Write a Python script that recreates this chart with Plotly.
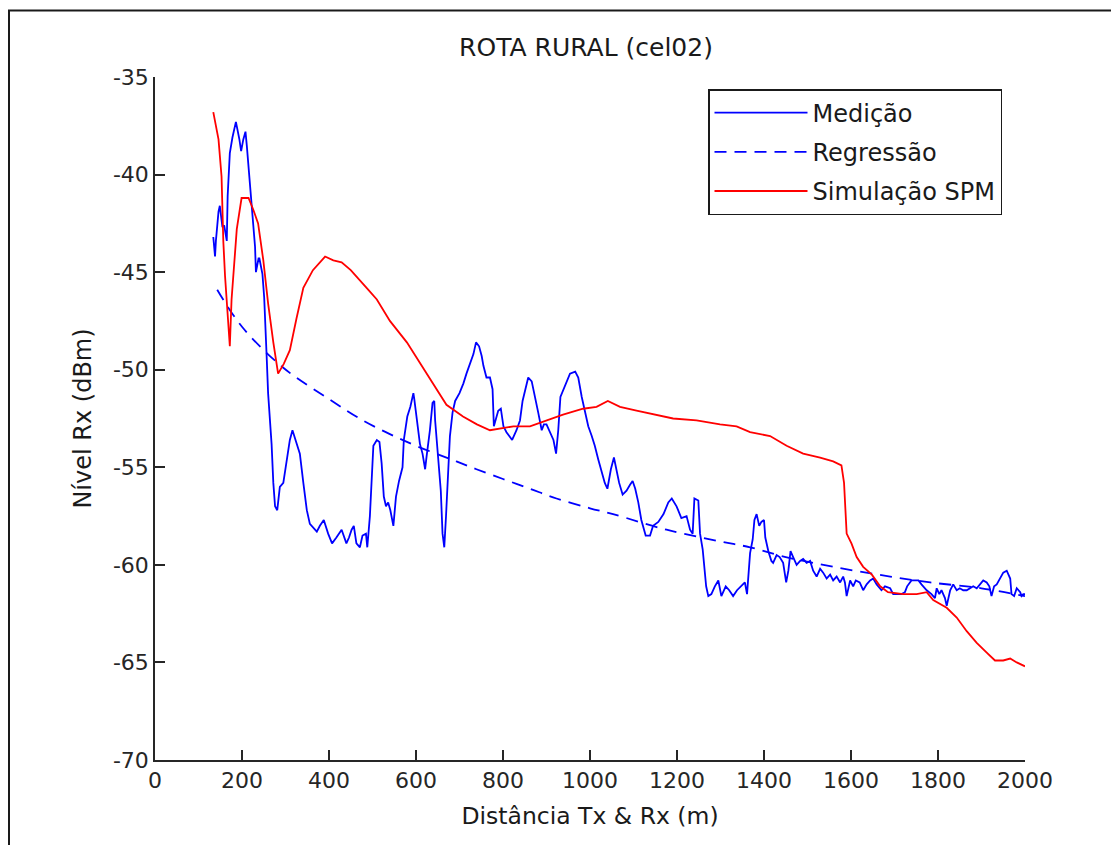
import plotly.graph_objects as go

# ---------------- data ----------------
med_x = [134, 138, 140, 146, 149, 155, 159, 165, 167, 172, 178, 184, 186, 194, 198, 203, 208, 211, 216, 220,
         224, 230, 232, 238, 240, 247, 251, 255, 257, 260, 264, 268, 272, 276, 281, 287, 295, 302, 310, 316,
         323, 333, 341, 349, 356, 364, 372, 379, 388, 398, 407, 417, 429, 440, 446, 452, 457, 463, 471, 477,
         485, 488, 494, 502, 510, 516, 521, 526, 531, 536, 541, 548, 554, 561, 569, 572, 580, 587, 594, 596,
         602, 609, 615, 621, 624, 632, 638, 642, 644, 651, 657, 661, 665, 669, 674, 678, 684, 690, 700, 709,
         716, 724, 732, 738, 745, 751, 755, 762, 770, 776, 779, 784, 789, 795, 801, 808, 821, 831, 839, 845,
         851, 858, 866, 874, 881, 889, 894, 900, 908, 916, 922, 927, 932, 939, 946, 954, 966, 973, 981, 989,
         996, 1004, 1011, 1019, 1027, 1034, 1040, 1048, 1055, 1061, 1067, 1075, 1084, 1092, 1098, 1104, 1111,
         1118, 1128, 1138, 1145, 1157, 1169, 1180, 1188, 1199, 1210, 1222, 1230, 1236, 1240, 1249, 1253, 1259,
         1264, 1267, 1272, 1279, 1287, 1295, 1302, 1312, 1320, 1329, 1338, 1348, 1356, 1361, 1364, 1368, 1374,
         1378, 1383, 1389, 1394, 1400, 1403, 1410, 1417, 1421, 1429, 1436, 1444, 1451, 1456, 1461, 1467, 1475,
         1483, 1490, 1498, 1506, 1513, 1521, 1529, 1536, 1544, 1552, 1559, 1567, 1575, 1582, 1586, 1590, 1598,
         1605, 1611, 1620, 1628, 1636, 1644, 1651, 1659, 1670, 1678, 1690, 1697, 1705, 1716, 1724, 1729, 1739,
         1747, 1755, 1762, 1774, 1785, 1793, 1797, 1803, 1808, 1816, 1820, 1828, 1835, 1843, 1850, 1858, 1866,
         1874, 1881, 1889, 1897, 1904, 1912, 1918, 1923, 1929, 1935, 1943, 1950, 1958, 1966, 1969, 1975, 1981,
         1989, 1992, 1996, 2000]
med_y = [-43.2, -44.2, -43.4, -41.9, -41.6, -42.7, -42.6, -43.4, -41.1, -38.9, -38.1, -37.4, -37.3, -38.2, -38.8,
         -38.2, -37.8, -38.5, -39.8, -41.1, -42.2, -43.7, -45.0, -44.3, -44.3, -45.1, -46.3, -48.0, -49.5, -51.2,
         -52.5, -53.8, -55.8, -57.0, -57.2, -56.0, -55.8, -54.8, -53.6, -53.1, -53.6, -54.3, -55.8, -57.2, -57.9,
         -58.1, -58.3, -58.0, -57.7, -58.4, -58.9, -58.6, -58.2, -58.9, -58.6, -58.2, -58.0, -58.9, -59.1, -58.5,
         -58.4, -59.1, -57.5, -53.9, -53.6, -53.7, -54.8, -56.5, -57.0, -56.8, -57.2, -58.0, -56.5, -55.7, -55.0,
         -53.6, -52.4, -51.9, -51.2, -51.5, -52.7, -53.8, -54.3, -55.1, -54.5, -53.1, -51.7, -51.6, -52.6, -54.5,
         -56.2, -58.4, -59.1, -57.5, -55.0, -53.4, -52.2, -51.6, -51.2, -50.7, -50.2, -49.7, -49.2, -48.6, -48.8,
         -49.3, -49.8, -50.4, -50.4, -51.0, -52.9, -52.5, -52.1, -52.0, -52.9, -53.2, -53.6, -53.1, -52.6, -51.6,
         -51.0, -50.4, -50.6, -51.4, -52.2, -53.1, -52.8, -52.8, -53.2, -53.6, -54.3, -53.1, -51.4, -51.0, -50.7,
         -50.2, -50.1, -50.4, -51.4, -52.2, -52.9, -53.4, -53.9, -54.6, -55.3, -55.8, -56.1, -55.1, -54.5, -55.1,
         -55.8, -56.4, -56.2, -55.9, -55.7, -56.1, -56.8, -57.7, -58.5, -58.5, -58.0, -57.8, -57.4, -56.8, -56.6,
         -57.0, -57.6, -57.5, -58.2, -58.4, -56.6, -56.7, -58.4, -59.2, -60.6, -61.1, -61.6, -61.5, -61.1, -60.8,
         -61.6, -61.1, -61.3, -61.6, -61.3, -61.1, -60.9, -61.5, -60.6, -59.4, -58.7, -57.7, -57.4, -58.0, -57.8,
         -57.7, -58.6, -59.3, -59.8, -59.9, -59.5, -59.6, -59.9, -60.9, -60.3, -59.3, -59.6, -60.0, -59.8, -59.7,
         -59.9, -59.8, -60.3, -60.6, -60.2, -60.4, -60.7, -60.5, -60.8, -60.6, -60.9, -60.6, -60.9, -61.6, -60.8,
         -61.1, -60.8, -60.9, -61.3, -61.0, -60.8, -60.7, -61.0, -61.3, -61.1, -61.2, -61.5, -61.5, -61.5, -61.4,
         -61.1, -60.8, -60.8, -60.8, -61.0, -61.3, -61.5, -61.7, -61.2, -61.5, -61.3, -61.7, -62.1, -61.3, -61.0,
         -61.3, -61.2, -61.3, -61.3, -61.2, -61.1, -61.2, -61.0, -60.8, -60.9, -61.1, -61.6, -61.1, -61.0, -60.7,
         -60.4, -60.3, -60.7, -61.5, -61.6, -61.2, -61.4, -61.6, -61.5, -61.5]

reg_x = [143, 200, 295, 400, 478, 540, 600, 693, 739, 800, 862, 923, 1000, 1053, 1176, 1299, 1368, 1450,
         1559, 1690, 1782, 1900, 2000]
reg_y = [-45.9, -47.8, -49.9, -51.5, -52.6, -53.3, -53.9, -54.7, -55.1, -55.6, -56.1, -56.6, -57.1, -57.4,
         -58.2, -58.8, -59.1, -59.6, -60.1, -60.6, -60.9, -61.2, -61.6]

sim_x = [134, 146, 153, 157, 161, 165, 168, 172, 176, 182, 188, 199, 215, 226, 237, 249, 260, 272, 283, 296,
         310, 325, 341, 363, 391, 410, 429, 450, 471, 490, 510, 540, 579, 616, 640, 670, 708, 740, 770, 793,
         824, 862, 900, 938, 984, 1015, 1041, 1069, 1107, 1153, 1191, 1245, 1299, 1337, 1368, 1414, 1452, 1490,
         1529, 1559, 1578, 1584, 1588, 1590, 1601, 1613, 1628, 1648, 1667, 1685, 1720, 1751, 1774, 1789, 1820,
         1843, 1866, 1889, 1912, 1931, 1950, 1966, 1981, 2000]
sim_y = [-36.8, -38.2, -40.1, -43.4, -45.2, -46.6, -48.0, -48.8, -46.4, -44.5, -42.8, -41.2, -41.2, -41.8,
         -42.5, -44.4, -46.6, -48.6, -50.2, -49.7, -49.0, -47.4, -45.8, -44.9, -44.2, -44.4, -44.5, -44.9, -45.4,
         -45.9, -46.4, -47.5, -48.6, -49.9, -50.7, -51.8, -52.4, -52.8, -53.1, -53.0, -52.9, -52.9, -52.6, -52.3,
         -52.0, -51.9, -51.6, -51.9, -52.1, -52.3, -52.5, -52.6, -52.8, -52.9, -53.2, -53.4, -53.9, -54.3, -54.5,
         -54.7, -54.9, -55.8, -57.4, -58.4, -58.9, -59.6, -60.1, -60.5, -61.1, -61.4, -61.5, -61.5, -61.4, -61.8,
         -62.2, -62.7, -63.4, -64.0, -64.5, -64.9, -64.9, -64.8, -65.0, -65.2]

x_ticks = [0, 200, 400, 600, 800, 1000, 1200, 1400, 1600, 1800, 2000]
y_ticks = [-35, -40, -45, -50, -55, -60, -65, -70]

title_text = "ROTA RURAL (cel02)"
x_label = "Distância Tx & Rx (m)"
y_label = "Nível Rx (dBm)"
names = ["Medição", "Regressão", "Simulação SPM"]

# ---------------- figure ----------------
FONT = "DejaVu Sans"
AX = "#262626"
TXT = "#1a1a1a"
W, H = 1119, 845
OFF = 8  # page body offset of the screenshot
L, T = 155 - OFF, 77 - OFF
pw, ph = 870, 683
R, B = W - L - pw, H - T - ph


def sx(p):  # screen px -> paper x
    return (p - OFF - L) / pw


def sy(p):  # screen px -> paper y
    return (H - B - (p - OFF)) / ph


fig = go.Figure()
fig.add_trace(go.Scatter(x=med_x, y=med_y, mode="lines", name=names[0], legendgroup="a",
                         line=dict(color="#0000FF", width=1.8)))
fig.add_trace(go.Scatter(x=reg_x, y=reg_y, mode="lines", name=names[1], legendgroup="b", line_shape="spline",
                         line=dict(color="#0000FF", width=1.8, dash="12px,8px")))
fig.add_trace(go.Scatter(x=sim_x, y=sim_y, mode="lines", name=names[2], legendgroup="c",
                         line=dict(color="#FF0000", width=1.8)))

fig.update_layout(
    width=W, height=H,
    margin=dict(l=L, r=R, t=T, b=B),
    paper_bgcolor="white", plot_bgcolor="white",
    font=dict(family=FONT, size=22, color=AX),
    title=dict(text=title_text, x=sx(586), xref="paper", xanchor="center",
               y=1 - (47 - OFF) / H, yref="container", yanchor="middle",
               font=dict(family=FONT, size=25, color=TXT)),
    showlegend=True,
    legend=dict(x=sx(708), y=sy(89), xanchor="left", yanchor="top",
                bgcolor="white", bordercolor=TXT, borderwidth=1.5,
                font=dict(family=FONT, size=24, color=TXT),
                tracegroupgap=5, itemwidth=93),
    xaxis=dict(range=[0, 2000], tickvals=x_ticks, ticktext=[str(v) for v in x_ticks],
               showgrid=False, zeroline=False, showline=True, linecolor=AX, linewidth=1.5,
               ticks="inside", ticklen=10, tickwidth=1.5, tickcolor=AX,
               title=dict(text=x_label, standoff=15, font=dict(family=FONT, size=23.5, color=TXT)),
               mirror=False),
    yaxis=dict(range=[-70, -35], tickvals=y_ticks, ticktext=[str(v) for v in y_ticks],
               showgrid=False, zeroline=False, showline=True, linecolor=AX, linewidth=1.5,
               ticks="inside", ticklen=10, tickwidth=1.5, tickcolor=AX,
               title=dict(text=y_label, standoff=15, font=dict(family=FONT, size=24, color=TXT)),
               mirror=False),
)

# outer figure frame (top and left edges visible, right/bottom off-image)
fig.add_shape(type="rect", xref="paper", yref="paper",
              x0=sx(9), x1=sx(1160), y0=sy(880), y1=sy(10.5),
              line=dict(color=TXT, width=2), fillcolor="rgba(0,0,0,0)", layer="below")

fig.write_html("out.html")
